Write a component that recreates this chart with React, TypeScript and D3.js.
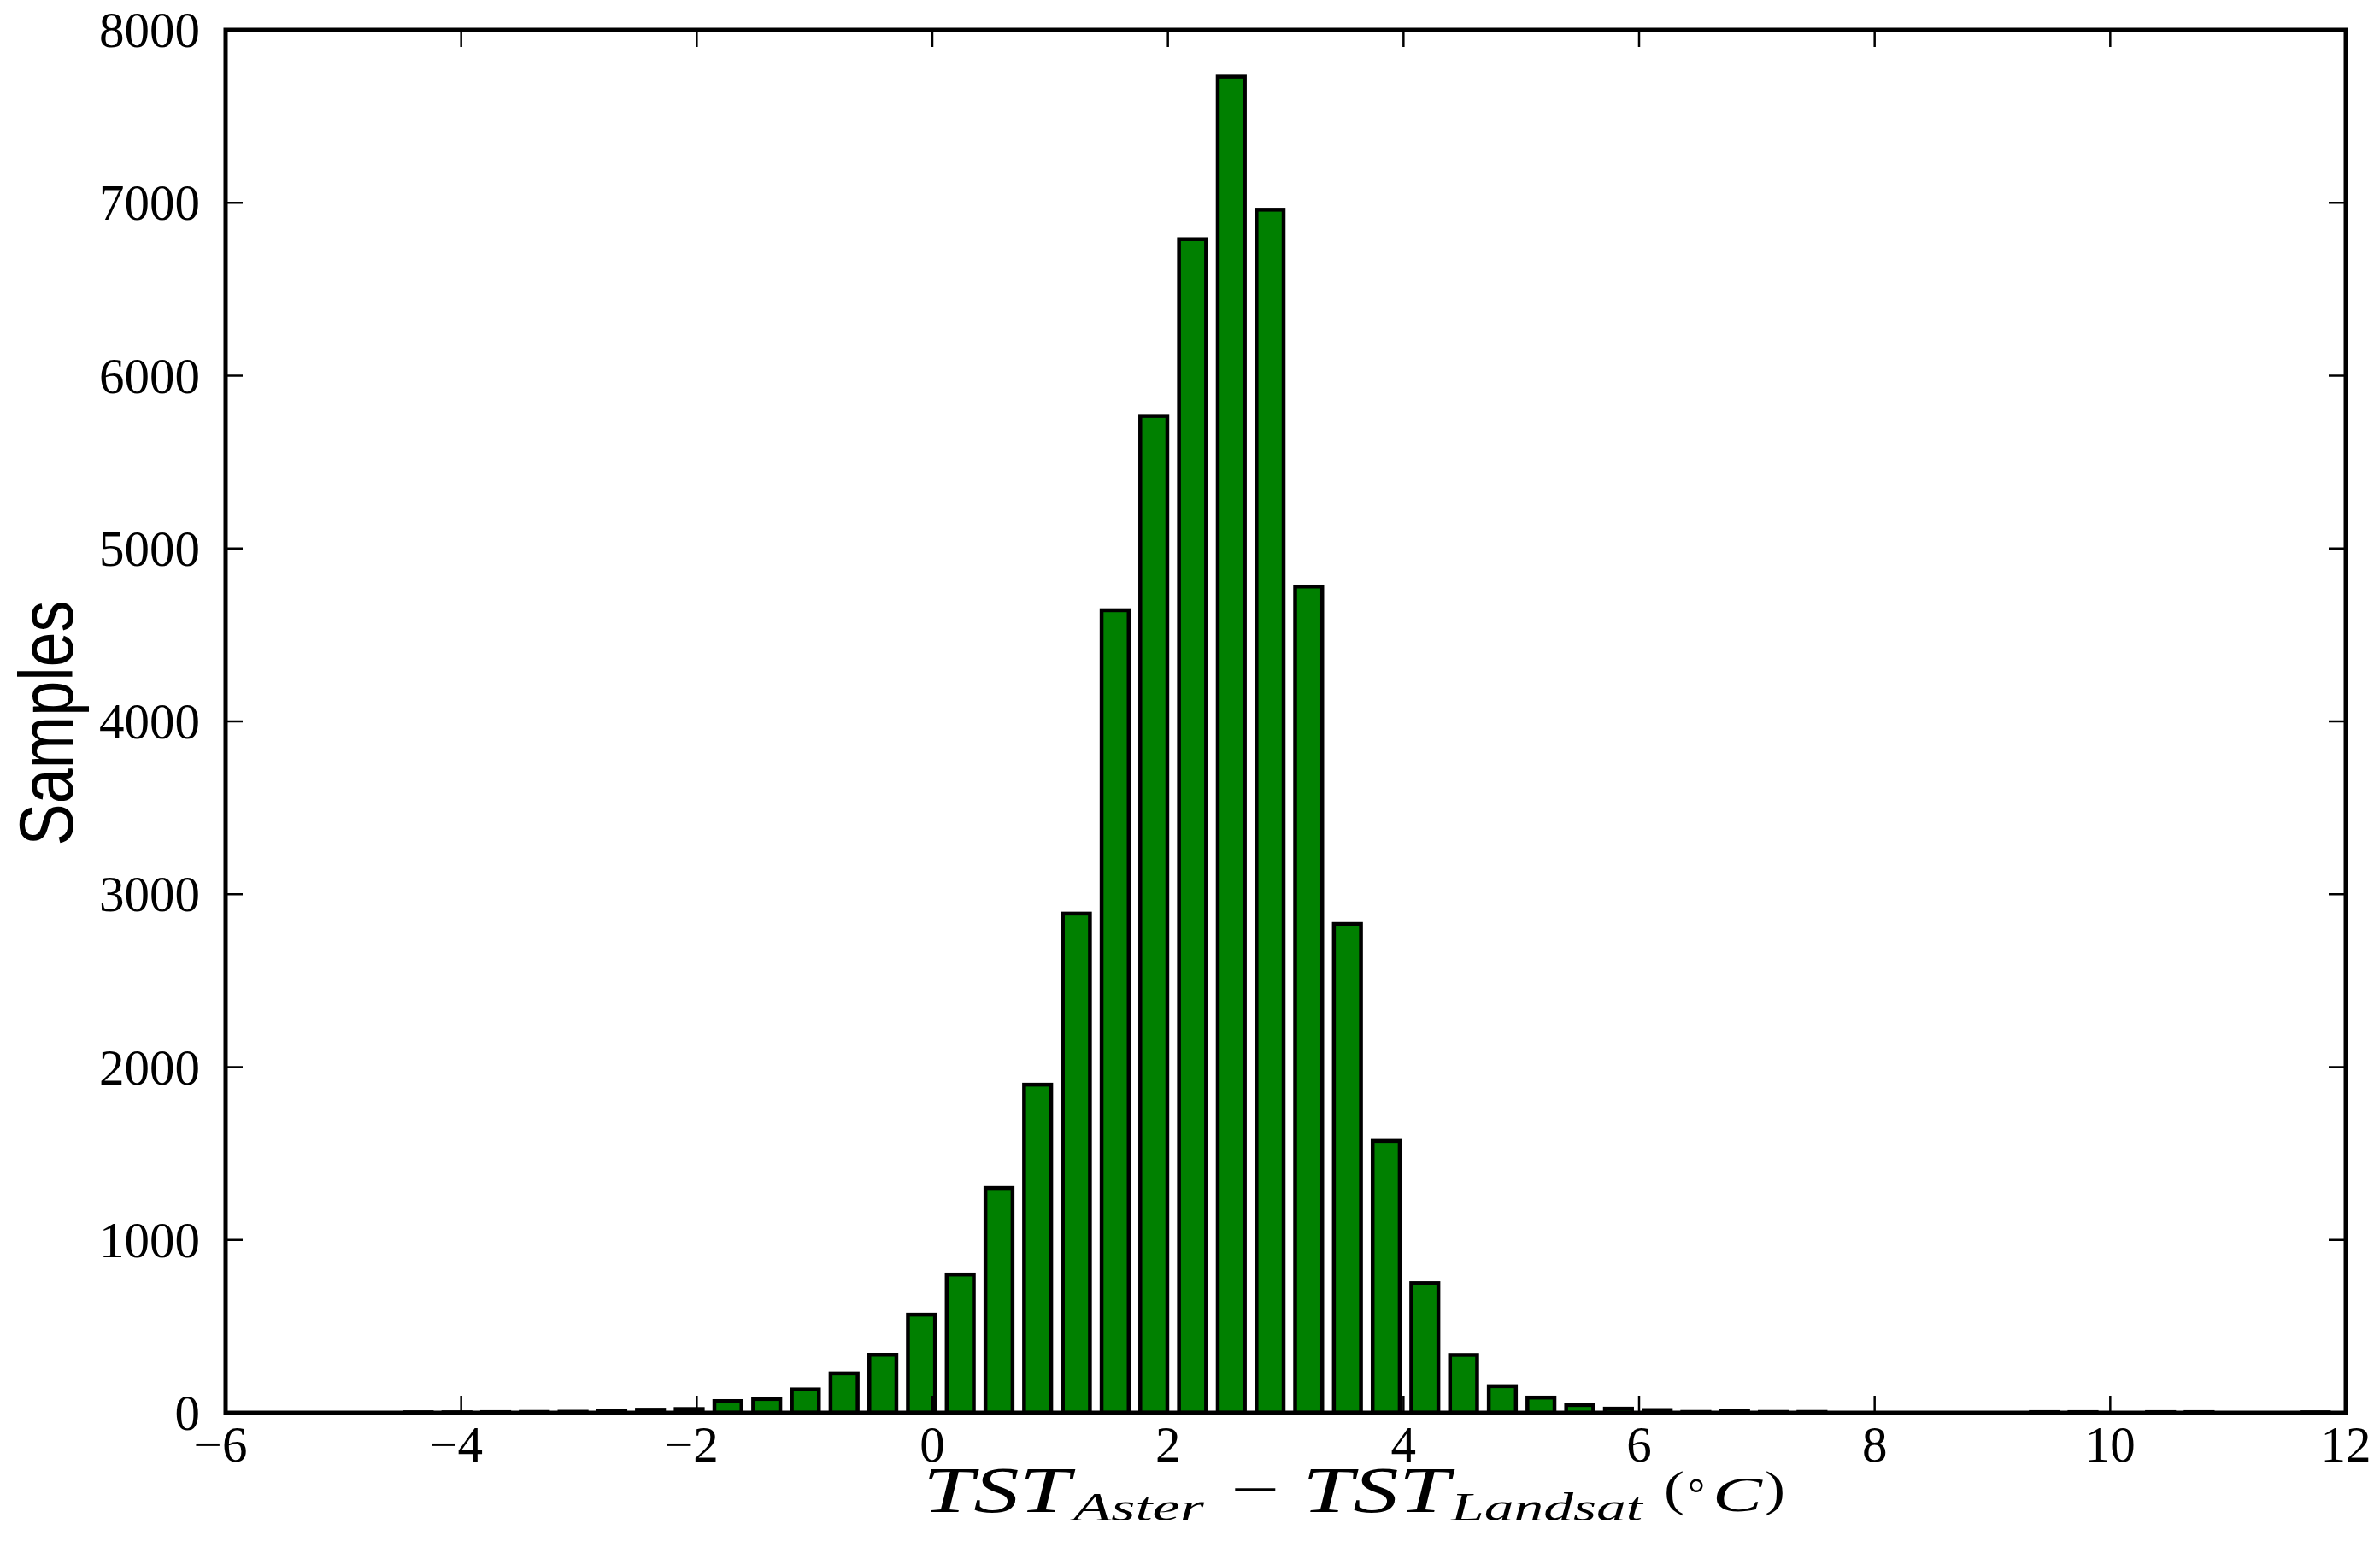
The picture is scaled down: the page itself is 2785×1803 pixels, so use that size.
import React from "react";
import * as d3 from "d3";

// Histogram bin centres (°C) and sample counts
const binCenters = [
  -4.365, -4.036, -3.707, -3.379, -3.05, -2.721, -2.393, -2.064, -1.735, -1.406,
  -1.078, -0.749, -0.42, -0.092, 0.237, 0.566, 0.894, 1.223, 1.552, 1.88,
  2.209, 2.538, 2.867, 3.195, 3.524, 3.853, 4.181, 4.51, 4.839, 5.167,
  5.496, 5.825, 6.154, 6.482, 6.811, 7.14, 7.468, 7.797, 8.126, 8.454,
  8.783, 9.112, 9.441, 9.769, 10.098, 10.427, 10.755, 11.084, 11.413, 11.741,
];
const sampleCounts = [
  3, 3, 4, 5, 6, 12, 18, 22, 68, 80,
  135, 228, 335, 568, 800, 1300, 1898, 2888, 4643, 5767,
  6790, 7730, 6960, 4780, 2828, 1573, 750, 334, 154, 88,
  45, 24, 16, 5, 9, 5, 5, 0, 0, 0,
  0, 0, 4, 4, 0, 4, 4, 0, 0, 3,
];
const xTicks = [-6, -4, -2, 0, 2, 4, 6, 8, 10, 12];
const yTicks = [0, 1000, 2000, 3000, 4000, 5000, 6000, 7000, 8000];
const barWidthUnits = 0.23;

const W = 2785;
const H = 1803;
const L = 264, R = 2745, T = 35, B = 1653;

const fmtX = (v: number) => (v < 0 ? "\u2212" + Math.abs(v) : String(v));

export default function App() {
  const x = d3.scaleLinear().domain([-6, 12]).range([L, R]);
  const y = d3.scaleLinear().domain([0, 8000]).range([B, T]);
  const serif = "'Liberation Serif', 'DejaVu Serif', serif";
  const sans = "'Liberation Sans', Arial, sans-serif";
  const tickLen = 20;

  return (
    <svg
      width={W}
      height={H}
      viewBox={`0 0 ${W} ${H}`}
      style={{ position: "absolute", left: 0, top: 0, background: "#fff" }}
    >
      <rect x={0} y={0} width={W} height={H} fill="#fff" />
      {/* bars */}
      <g>
        {binCenters.map((c, i) => {
          const v = sampleCounts[i];
          if (v <= 0) return null;
          const x0 = x(c - barWidthUnits / 2);
          const x1 = x(c + barWidthUnits / 2);
          return (
            <rect
              key={i}
              x={x0}
              y={y(v)}
              width={x1 - x0}
              height={y(0) - y(v)}
              fill="#008000"
              stroke="#000"
              strokeWidth={4.5}
            />
          );
        })}
      </g>
      {/* ticks */}
      <g stroke="#000" strokeWidth={2.5}>
        {xTicks.map((t) => (
          <g key={"xt" + t}>
            <line x1={x(t)} x2={x(t)} y1={B} y2={B - tickLen} />
            <line x1={x(t)} x2={x(t)} y1={T} y2={T + tickLen} />
          </g>
        ))}
        {yTicks.map((t) => (
          <g key={"yt" + t}>
            <line x1={L} x2={L + tickLen} y1={y(t)} y2={y(t)} />
            <line x1={R} x2={R - tickLen} y1={y(t)} y2={y(t)} />
          </g>
        ))}
      </g>
      {/* frame */}
      <rect
        x={L}
        y={T}
        width={R - L}
        height={B - T}
        fill="none"
        stroke="#000"
        strokeWidth={5}
      />
      {/* tick labels */}
      <g fontFamily={serif} fontSize={59} fill="#000">
        {yTicks.map((t) => (
          <text key={"yl" + t} x={234} y={y(t) + 20} textAnchor="end">
            {t}
          </text>
        ))}
        {xTicks.map((t) => (
          <text key={"xl" + t} x={x(t) - (t < 0 ? 6 : 0)} y={1710} textAnchor="middle">
            {fmtX(t)}
          </text>
        ))}
      </g>
      {/* y label */}
      <text
        transform="translate(85,846) rotate(-90)"
        textAnchor="middle"
        fontFamily={sans}
        fontSize={89}
        textLength={287}
        lengthAdjust="spacingAndGlyphs"
        fill="#000"
      >
        Samples
      </text>
      {/* x label */}
      <g fontFamily={serif} fill="#000">
        <text x={1080} y={1769} fontSize={76} fontStyle="italic" textLength={172} lengthAdjust="spacingAndGlyphs">TST</text>
        <text x={1256} y={1779} fontSize={46} fontStyle="italic" textLength={153} lengthAdjust="spacingAndGlyphs">Aster</text>
        <text x={1440} y={1768} fontSize={75} textLength={57} lengthAdjust="spacingAndGlyphs">{"\u2212"}</text>
        <text x={1524} y={1769} fontSize={76} fontStyle="italic" textLength={172} lengthAdjust="spacingAndGlyphs">TST</text>
        <text x={1698} y={1779} fontSize={46} fontStyle="italic" textLength={224} lengthAdjust="spacingAndGlyphs">Landsat</text>
        <text x={1947} y={1761} fontSize={58} textLength={24} lengthAdjust="spacingAndGlyphs">(</text>
        <text x={1975} y={1764} fontSize={50}>{"\u00B0"}</text>
        <text x={2004} y={1768} fontSize={58} fontStyle="italic" textLength={58} lengthAdjust="spacingAndGlyphs">C</text>
        <text x={2065} y={1761} fontSize={58} textLength={24} lengthAdjust="spacingAndGlyphs">)</text>
      </g>
    </svg>
  );
}
